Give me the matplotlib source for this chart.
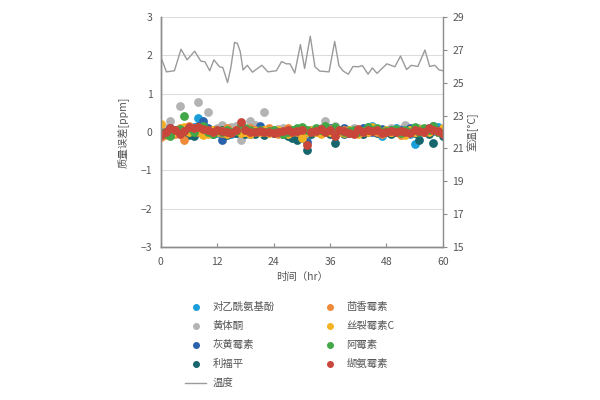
import numpy as np
import matplotlib
matplotlib.use('Agg')
import matplotlib.pyplot as plt
from matplotlib.lines import Line2D

plt.rcParams['font.family'] = ['Noto Sans CJK SC', 'DejaVu Sans']
plt.rcParams['axes.unicode_minus'] = True

# hours
hours = list(range(0, 61))

# mass error [ppm] per compound
names = ['对乙酰氨基酚', '黄体酮', '灰黄霉素', '利福平',
         '茴香霉素', '丝裂霉素C', '阿霉素', '缬氨霉素']
colors = ['#1a9fd9', '#b3b3b3', '#2a62ab', '#17666e',
          '#ee8a3a', '#f4b223', '#42a747', '#c9463b']

acetaminophen = [-0.05, 0.02, -0.03, 0.05, 0.00, 0.08, 0.04, 0.12, 0.36, 0.20,
                 0.05, 0.00, -0.02, 0.03, 0.00, -0.05, 0.02, 0.00, 0.05, 0.00,
                 -0.03, 0.02, 0.00, 0.05, -0.02, 0.00, 0.03, -0.05, 0.00, -0.08,
                 0.02, -0.12, 0.05, 0.02, -0.03, 0.08, 0.00, -0.05, 0.03, 0.00,
                 0.05, 0.08, -0.02, 0.06, 0.12, 0.15, 0.00, -0.10, 0.03, 0.08,
                 0.10, 0.02, 0.04, -0.05, -0.30, 0.00, 0.08, 0.10, 0.02, 0.12,
                 -0.05]
progesterone = [-0.08, 0.10, 0.30, 0.05, 0.67, 0.10, -0.05, 0.05, 0.77, 0.02,
                0.53, 0.05, 0.10, 0.18, 0.10, 0.12, 0.15, -0.20, 0.05, 0.30,
                0.18, 0.10, 0.53, 0.00, 0.05, 0.08, 0.10, -0.02, 0.05, 0.00,
                -0.05, -0.10, 0.00, 0.05, 0.10, 0.28, 0.05, 0.15, 0.00, 0.05,
                0.02, 0.10, 0.00, -0.05, 0.05, 0.08, 0.02, 0.00, 0.05, 0.10,
                0.00, 0.08, 0.18, 0.05, 0.00, 0.10, 0.02, 0.05, 0.10, 0.00,
                0.05]
griseofulvin = [0.00, -0.05, 0.10, 0.02, 0.05, 0.00, 0.10, 0.05, 0.15, 0.30,
                0.10, 0.05, 0.00, -0.22, 0.05, 0.00, -0.02, 0.05, 0.00, -0.05,
                0.05, 0.15, -0.02, 0.05, 0.00, 0.02, -0.05, 0.00, -0.10, -0.05,
                -0.15, -0.25, 0.00, 0.05, 0.00, 0.05, 0.10, 0.00, 0.05, 0.10,
                0.02, 0.00, 0.05, 0.10, 0.02, 0.00, 0.05, 0.08, 0.00, 0.05,
                0.00, 0.05, 0.00, 0.10, 0.08, 0.00, 0.05, 0.00, 0.15, 0.05,
                -0.02]
rifampicin = [-0.10, 0.00, -0.05, 0.02, 0.05, 0.00, -0.08, -0.10, 0.00, -0.05,
              0.02, -0.05, 0.00, 0.05, -0.08, 0.00, -0.03, 0.00, -0.05, 0.02,
              -0.05, 0.00, -0.08, 0.00, -0.03, 0.00, -0.05, -0.10, -0.15, -0.22,
              -0.10, -0.47, -0.05, 0.00, 0.02, 0.00, -0.05, -0.28, 0.00, -0.05,
              -0.03, 0.00, 0.02, -0.05, 0.00, 0.02, -0.03, 0.00, 0.00, -0.05,
              0.00, 0.02, -0.05, 0.00, -0.03, -0.22, 0.00, -0.05, -0.28, 0.00,
              -0.10]
anisomycin = [-0.12, -0.08, 0.00, -0.05, 0.10, -0.22, 0.15, 0.05, 0.00, 0.10,
              0.00, 0.05, 0.02, -0.03, 0.10, 0.00, 0.05, 0.08, 0.00, 0.10,
              0.05, 0.00, 0.05, 0.10, 0.02, -0.05, 0.00, 0.10, 0.05, 0.00,
              -0.03, 0.05, 0.02, 0.00, 0.05, 0.00, 0.08, 0.02, 0.00, 0.05,
              0.00, -0.03, 0.05, 0.00, 0.02, 0.05, 0.00, -0.05, 0.02, 0.00,
              0.05, -0.08, -0.02, 0.05, 0.00, 0.02, 0.00, 0.05, 0.08, 0.00,
              0.05]
mitomycin_c = [0.22, -0.05, 0.05, 0.00, -0.05, 0.12, 0.00, 0.05, 0.02, -0.08,
               -0.05, 0.05, 0.00, 0.02, -0.05, 0.00, 0.05, -0.03, 0.00, -0.05,
               0.02, 0.00, 0.05, -0.03, 0.00, 0.05, 0.00, -0.05, 0.00, 0.05,
               -0.15, 0.00, 0.05, 0.00, -0.05, 0.08, 0.00, 0.05, 0.00, -0.03,
               0.05, 0.00, -0.05, 0.02, 0.00, 0.12, 0.05, 0.00, 0.05, 0.00,
               0.05, 0.00, -0.08, 0.05, 0.00, 0.08, 0.05, 0.00, 0.10, 0.02,
               0.10]
doxorubicin = [-0.03, -0.05, -0.10, 0.05, 0.08, 0.43, 0.10, 0.00, 0.12, 0.15,
               0.00, -0.05, 0.05, 0.00, 0.05, 0.00, 0.02, 0.18, 0.10, 0.05,
               0.00, 0.05, 0.00, 0.02, 0.05, 0.00, -0.05, 0.00, 0.05, 0.10,
               0.12, 0.05, 0.00, 0.10, 0.05, 0.15, 0.05, 0.12, 0.05, 0.00,
               0.02, 0.05, 0.00, 0.02, 0.12, 0.05, 0.10, 0.00, 0.02, 0.05,
               0.08, -0.02, 0.05, 0.00, 0.12, 0.00, 0.10, 0.05, 0.15, 0.00,
               -0.02]
valinomycin = [-0.08, 0.00, 0.10, 0.05, -0.05, 0.02, 0.12, 0.10, 0.12, 0.08,
               0.05, 0.00, 0.05, 0.02, 0.00, -0.02, 0.05, 0.25, 0.05, 0.00,
               0.00, 0.02, 0.00, 0.00, -0.03, 0.00, 0.02, 0.05, 0.00, 0.02,
               0.05, -0.35, 0.00, 0.02, 0.08, 0.00, 0.05, -0.10, 0.05, 0.02,
               -0.02, -0.05, 0.08, 0.00, 0.05, 0.02, 0.05, -0.03, 0.00, 0.02,
               0.00, 0.02, 0.00, -0.03, 0.05, 0.02, 0.00, 0.10, 0.05, 0.02,
               -0.05]
series = [acetaminophen, progesterone, griseofulvin, rifampicin,
          anisomycin, mitomycin_c, doxorubicin, valinomycin]

# room temperature [degC]
temp_hours = [0, 1.2, 2.9, 4.3, 5.6, 7.2, 8.5, 9.4, 10.4, 11.3, 12.5, 13.2,
              14.2, 14.9, 15.7, 16.3, 16.9, 17.5, 18.4, 19.5, 21.5, 22.8,
              24.6, 25.7, 26.7, 27.5, 28.5, 29.7, 30.6, 31.8, 32.8, 33.8,
              35.8, 37.0, 37.9, 38.8, 39.9, 40.9, 42.0, 42.9, 44.1, 45.0,
              46.0, 48.1, 49.8, 51.0, 52.3, 53.3, 54.7, 56.2, 57.2, 58.3,
              59.2, 60.0]
temp = [26.57, 25.66, 25.73, 27.04, 26.39, 26.92, 26.32, 26.27, 25.73, 26.39,
        25.97, 25.92, 25.01, 25.92, 27.46, 27.39, 26.90, 25.78, 26.06, 25.64,
        26.06, 25.66, 25.73, 26.29, 26.15, 26.15, 25.59, 27.32, 25.87, 27.83,
        25.97, 25.71, 25.66, 27.51, 26.04, 25.71, 25.52, 25.99, 25.97, 26.04,
        25.52, 25.90, 25.57, 26.15, 25.97, 26.62, 25.80, 26.06, 25.99, 26.99,
        25.99, 26.06, 25.78, 25.73]

text_color = '#555555'
spine_color = '#8c8c8c'

fig = plt.figure(figsize=(6, 4), dpi=100)
ax = fig.add_axes([0.268, 0.3825, 0.47, 0.575])
ax2 = ax.twinx()

for name, vals, c in zip(names, series, colors):
    ax.scatter(hours, vals, s=40, color=c, linewidths=0, zorder=3)

ax2.plot(temp_hours, temp, color='#9a9a9a', lw=1.0)

ax.set_xlim(0, 60)
ax.set_ylim(-3, 3)
ax2.set_ylim(15, 29)
ax.set_xticks(range(0, 61, 12))
ax.set_yticks(range(-3, 4))
ax2.set_yticks(range(15, 30, 2))

ax.grid(axis='y', color='#dcdcdc', lw=0.8)
ax.set_axisbelow(True)

for a in (ax, ax2):
    a.spines['top'].set_visible(False)
    for s in ('left', 'bottom', 'right'):
        a.spines[s].set_color(spine_color)
        a.spines[s].set_linewidth(1.0)
ax.spines['right'].set_visible(False)

ax.tick_params(axis='x', direction='in', length=3, color=spine_color,
               labelsize=7.5, labelcolor=text_color, pad=7)
ax.tick_params(axis='y', length=0, labelsize=7.5, labelcolor=text_color, pad=6)
ax2.tick_params(axis='y', direction='out', length=3, color=spine_color,
                labelsize=7.5, labelcolor=text_color, pad=4)

ax.set_xlabel('时间（hr）', fontsize=7.5, color=text_color, labelpad=4)
ax.set_ylabel('质量误差[ppm]', fontsize=7.5, color=text_color, labelpad=8)
ax2.set_ylabel('室温[°C]', fontsize=7.5, color=text_color, labelpad=2,
               rotation=90)

# legend: 2 columns, temperature line at the end of column 1
handles = []
labels = []
for i in range(4):
    handles.append(Line2D([], [], ls='', marker='o', ms=4, color=colors[i]))
    labels.append(names[i])
handles.append(Line2D([], [], color='#9a9a9a', lw=1.0))
labels.append('温度')
for i in range(4, 8):
    handles.append(Line2D([], [], ls='', marker='o', ms=4, color=colors[i]))
    labels.append(names[i])

leg = fig.legend(handles, labels, loc='upper left', bbox_to_anchor=(0.302, 0.255),
                 ncol=2, frameon=False, fontsize=7.5, handlelength=2.0,
                 handletextpad=0.6, columnspacing=4.3, labelspacing=0.86,
                 borderaxespad=0)
for t in leg.get_texts():
    t.set_color(text_color)

fig.savefig('out.png', dpi=100)
